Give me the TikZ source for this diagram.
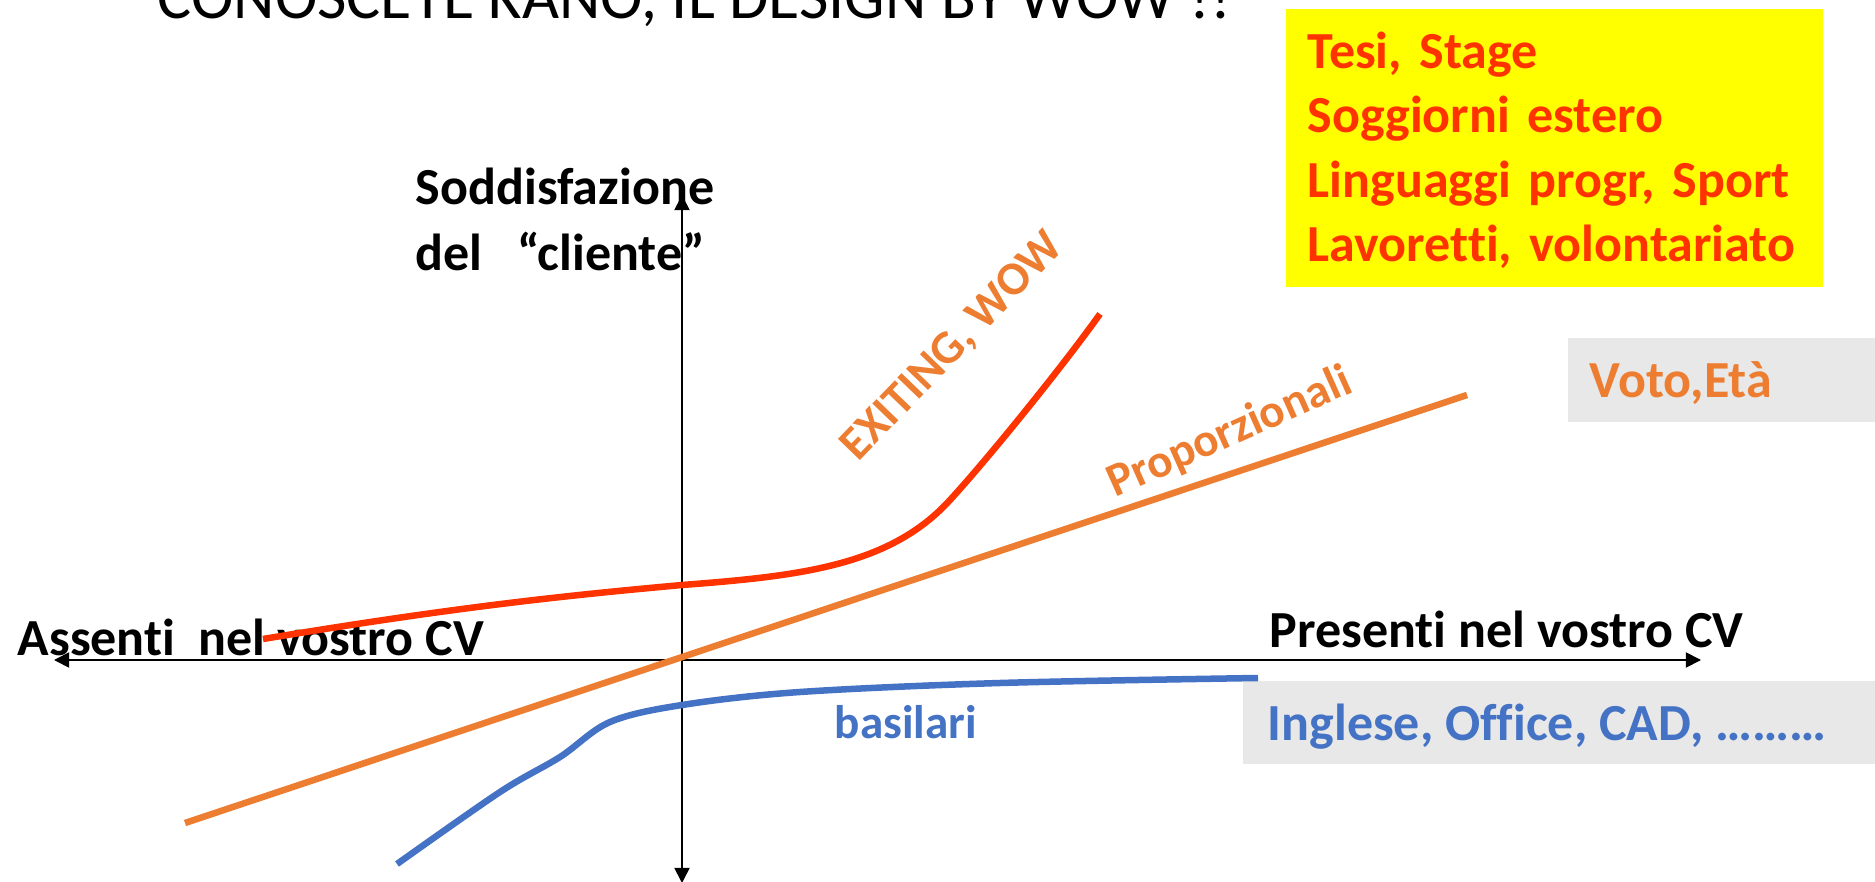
\documentclass[tikz,border=0pt]{standalone}
\usepackage{fontspec}
\setmainfont{Carlito}[Ligatures=NoCommon]
\frenchspacing
\usetikzlibrary{arrows.meta}
\definecolor{myred}{RGB}{255, 51, 0}
\definecolor{myorange}{RGB}{237, 125, 49}
\definecolor{myblue}{RGB}{68, 114, 196}
\definecolor{myyellow}{RGB}{255, 255, 0}
\definecolor{mygray1}{RGB}{232, 232, 232}

\begin{document}
\begin{tikzpicture}[
    x = 0.01cm, y = -0.01cm,
    ax/.style = {line width = 0.5pt, {Triangle[length=4.3pt, width=4.3pt]}-{Triangle[length=4.3pt, width=4.3pt]}},
    c0/.style = {line width = 1.85pt},
    lab/.style = {anchor = base west, inner sep = 0pt, font = \fontsize{14.8}{18.5}\selectfont\bfseries},
    lab2/.style = {inner sep = 0pt, font = \fontsize{13.4}{16}\selectfont\bfseries}
]
\useasboundingbox (0,0) rectangle (1875,882);
\clip (0,0) rectangle (1875,882);

\node[anchor = base west, inner sep = 0pt, font = \fontsize{18.2}{22}\selectfont] (title) at (157, 19) {CONOSCETE KANO, IL DESIGN BY WOW !!};

\fill[myyellow] (1286, 9) rectangle (1823, 287);
\fill[mygray1] (1568, 338) rectangle (1875, 422);
\fill[mygray1] (1243, 681) rectangle (1875, 764);

\node[lab, text = myred, align = left, text width = 6cm, font = \fontsize{14.8}{18.2}\selectfont\bfseries] (extra) at (1307, 69) {Tesi, Stage\\Soggiorni estero\\Linguaggi progr, Sport\\Lavoretti, volontariato};
\node[lab, text = myorange] (voto) at (1589, 397) {Voto,Età};
\node[lab, text = myblue] (base) at (1267, 740) {Inglese, Office, CAD, ………};

\node[lab, align = left, text width = 4cm] (ylab) at (415, 205) {Soddisfazione\\del\ \ “cliente”};
\node[lab] (xneg) at (17, 655) {Assenti\ \ nel vostro CV};
\node[lab] (xpos) at (1269, 647) {Presenti nel vostro CV};

% assi
\coordinate (xl) at (54, 660);
\coordinate (xr) at (1701, 660);
\coordinate (yt) at (682, 195);
\coordinate (yb) at (682, 883);
\draw[ax] (xl) -- (xr);
\draw[ax] (yt) -- (yb);

\draw[c0, myorange] (185, 823) -- (1467, 395);
\draw[c0, myred] (263, 639) .. controls (450, 608) and (560, 596) .. (682, 585)
    .. controls (800, 576) and (890, 566) .. (950, 500)
    .. controls (985, 462) and (1060, 370) .. (1100, 314);
\draw[c0, myblue] plot[smooth, tension = 0.55] coordinates {(397, 864) (500, 792) (560, 757) (610, 722) (682, 705) (800, 692) (1000, 683) (1258, 678)};

\node[lab2, text = myorange, rotate = 46] (wow) at (953, 347) {EXITING, WOW};
\node[lab2, text = myorange, rotate = 24] (prop) at (1230, 433) {Proporzionali};
\node[lab2, anchor = base west, text = myblue] (bas) at (834, 738) {basilari};

\end{tikzpicture}
\end{document}
